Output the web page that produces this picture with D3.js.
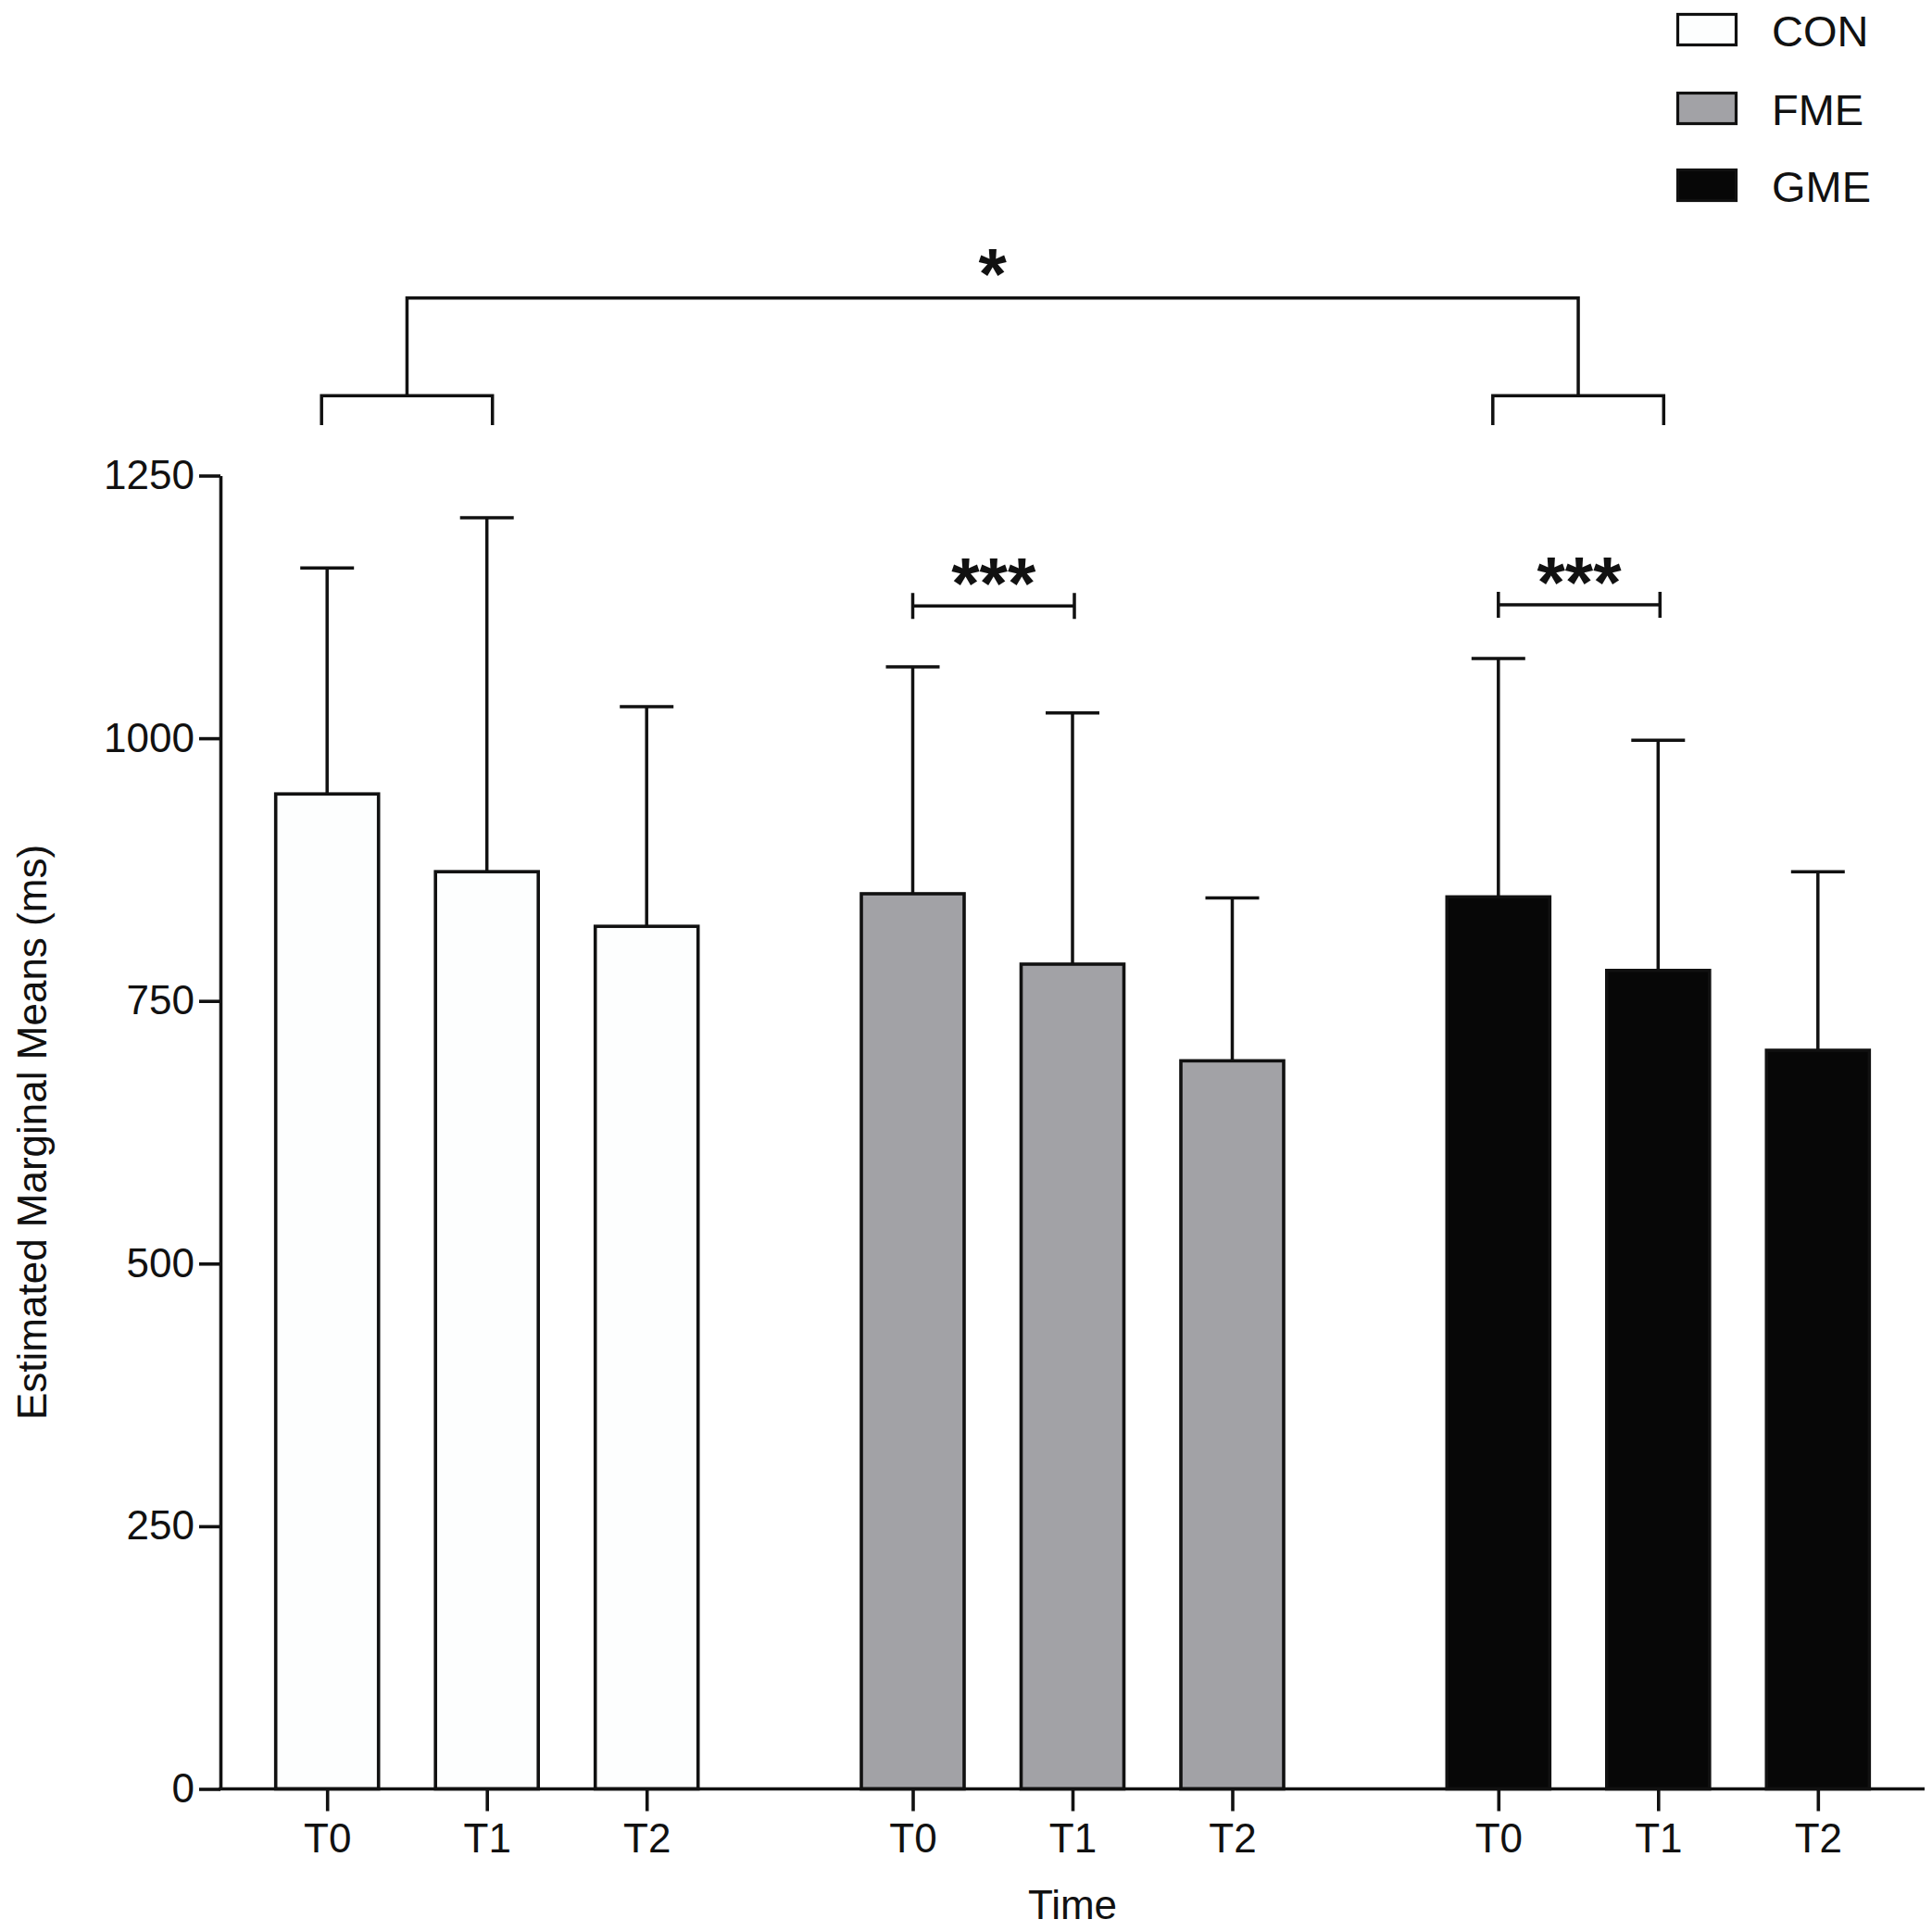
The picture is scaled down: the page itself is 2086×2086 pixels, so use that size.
<!DOCTYPE html>
<html>
<head>
<meta charset="utf-8">
<script src="https://cdn.jsdelivr.net/npm/d3@7"></script>
<style>
  body { margin: 0; background: #fff; }
</style>
</head>
<body>
<script>
// values (ms)
var groups   = ["CON", "FME", "GME"];
var times    = ["T0", "T1", "T2"];
var conMeans = [947, 873, 821];
var conSD    = [215, 337, 209];
var fmeMeans = [852, 785, 693];
var fmeSD    = [216, 239, 155];
var gmeMeans = [849, 779, 703];
var gmeSD    = [227, 219, 170];
var yTicks   = [0, 250, 500, 750, 1000, 1250];
var colours  = ["#fdfefe", "#a2a2a6", "#070707"];

var width  = 2086;
var height = 2086;
var plotLeft = 238, plotRight = 2078, plotTop = 513.5, plotBottom = 1931.5;
var font = "'Liberation Sans', Arial, Helvetica, sans-serif";

var means = [conMeans, fmeMeans, gmeMeans];
var sds   = [conSD, fmeSD, gmeSD];
var rows = [];
groups.forEach(function(g, i) {
  times.forEach(function(t, j) {
    rows.push({ group: g, time: t, gi: i, mean: means[i][j], sd: sds[i][j] });
  });
});

// group positions, then time positions inside each group
var x0 = d3.scalePoint().domain(groups).range([plotLeft, plotRight]).padding(0.455);
var x1 = d3.scaleBand().domain(times).range([-258.75, 258.75])
           .paddingInner(0.3565).paddingOuter(0.3565 / 2);
var y  = d3.scaleLinear().domain([0, 1250]).range([plotBottom, plotTop]);

function cx(g, t) { return x0(g) + x1(t) + x1.bandwidth() / 2; }

var svg = d3.select("body").append("svg")
  .attr("width", width)
  .attr("height", height)
  .style("font-family", font);

svg.append("rect").attr("width", width).attr("height", height).attr("fill", "#fff");

// bars
svg.selectAll("rect.bar")
  .data(rows)
  .enter().append("rect")
    .attr("class", "bar")
    .attr("x", function(d) { return cx(d.group, d.time) - x1.bandwidth() / 2; })
    .attr("y", function(d) { return y(d.mean); })
    .attr("width", x1.bandwidth())
    .attr("height", function(d) { return y(0) - y(d.mean); })
    .attr("fill", function(d) { return colours[d.gi]; })
    .attr("stroke", "#111")
    .attr("stroke-width", 3.6);

// error bars (upper only)
var err = svg.selectAll("g.err").data(rows).enter().append("g")
  .attr("stroke", "#111").attr("stroke-width", 3.5);
err.append("line")
  .attr("x1", function(d) { return cx(d.group, d.time); })
  .attr("x2", function(d) { return cx(d.group, d.time); })
  .attr("y1", function(d) { return y(d.mean); })
  .attr("y2", function(d) { return y(d.mean + d.sd); });
err.append("line")
  .attr("x1", function(d) { return cx(d.group, d.time) - 29; })
  .attr("x2", function(d) { return cx(d.group, d.time) + 29; })
  .attr("y1", function(d) { return y(d.mean + d.sd); })
  .attr("y2", function(d) { return y(d.mean + d.sd); });

// y axis
var yAxis = svg.append("g")
  .attr("transform", "translate(" + plotLeft + ",0)")
  .call(d3.axisLeft(y).tickValues(yTicks).tickFormat(d3.format("d"))
          .tickSize(23).tickSizeOuter(0).tickPadding(5));
yAxis.attr("font-size", 44).attr("font-family", font);
yAxis.selectAll("path, line").attr("stroke", "#111").attr("stroke-width", 3.6);
yAxis.selectAll("text").attr("fill", "#111");

// x axis
var keys = rows.map(function(d) { return d.group + "|" + d.time; });
var xTick = d3.scaleOrdinal().domain(keys)
  .range(rows.map(function(d) { return cx(d.group, d.time); }));
var xAxis = svg.append("g")
  .attr("transform", "translate(0," + plotBottom + ")")
  .call(d3.axisBottom(xTick).tickSize(24).tickFormat(function(k) { return k.split("|")[1]; }));
xAxis.select(".domain").remove();
xAxis.append("line").attr("x1", plotLeft - 1.8).attr("x2", plotRight).attr("stroke", "#111");
xAxis.attr("font-size", 44).attr("font-family", font);
xAxis.selectAll("line").attr("stroke", "#111").attr("stroke-width", 3.6);
xAxis.selectAll(".tick text").attr("y", 68.5).attr("dy", 0).attr("fill", "#111");

// axis titles
svg.append("text")
  .attr("x", x0("FME")).attr("y", 2072)
  .attr("text-anchor", "middle").attr("font-size", 44).attr("fill", "#111")
  .text("Time");
svg.append("text")
  .attr("transform", "translate(50," + (plotTop + plotBottom) / 2 + ") rotate(-90)")
  .attr("text-anchor", "middle").attr("font-size", 44).attr("fill", "#111")
  .text("Estimated Marginal Means (ms)");

// significance: T0 vs T1 within a group
var pairBrackets = [
  { group: "FME", from: "T0", to: "T1", level: 1126, label: "***" },
  { group: "GME", from: "T0", to: "T1", level: 1127, label: "***" }
];
var br = svg.selectAll("g.pair").data(pairBrackets).enter().append("g")
  .attr("stroke", "#111").attr("stroke-width", 3.5);
br.append("path")
  .attr("fill", "none")
  .attr("d", function(d) {
    var a = cx(d.group, d.from), b = cx(d.group, d.to) + 2, h = y(d.level);
    return "M" + a + "," + (h - 14) + "V" + (h + 14) +
           "M" + a + "," + h + "H" + b +
           "M" + b + "," + (h - 14) + "V" + (h + 14);
  });
br.append("text")
  .attr("stroke", "none").attr("fill", "#111")
  .attr("x", function(d) { return (cx(d.group, d.from) + cx(d.group, d.to)) / 2 + 1; })
  .attr("y", function(d) { return y(d.level) + 3; })
  .attr("text-anchor", "middle").attr("font-size", 78).attr("font-weight", "bold")
  .text(function(d) { return d.label; });

// significance: CON vs GME (T0–T1 pooled)
var groupBracket = { left: "CON", right: "GME", from: "T0", to: "T1", subLevel: 1326, subDrop: 28, topLevel: 1419, label: "*" };
var spread = 6;
var gb = svg.append("g").attr("stroke", "#111").attr("stroke-width", 3.5).attr("fill", "none");
[groupBracket.left, groupBracket.right].forEach(function(g) {
  var a = cx(g, groupBracket.from) - spread, b = cx(g, groupBracket.to) + spread;
  var h = y(groupBracket.subLevel), hd = y(groupBracket.subLevel - groupBracket.subDrop);
  gb.append("path").attr("d", "M" + a + "," + hd + "V" + h + "H" + b + "V" + hd);
});
var mL = (cx(groupBracket.left, groupBracket.from) + cx(groupBracket.left, groupBracket.to)) / 2;
var mR = (cx(groupBracket.right, groupBracket.from) + cx(groupBracket.right, groupBracket.to)) / 2;
gb.append("path").attr("d",
  "M" + mL + "," + y(groupBracket.subLevel) + "V" + y(groupBracket.topLevel) +
  "H" + mR + "V" + y(groupBracket.subLevel));
svg.append("text")
  .attr("x", (mL + mR) / 2).attr("y", y(groupBracket.topLevel) + 1)
  .attr("text-anchor", "middle").attr("font-size", 78).attr("font-weight", "bold").attr("fill", "#111")
  .text(groupBracket.label);

// legend
var legend = svg.selectAll("g.legend").data(groups).enter().append("g")
  .attr("transform", function(d, i) { return "translate(1811.5," + [15.5, 100.5, 183.5][i] + ")"; });
legend.append("rect")
  .attr("width", 63).attr("height", 33)
  .attr("fill", function(d, i) { return colours[i]; })
  .attr("stroke", "#111").attr("stroke-width", 3.2);
legend.append("text")
  .attr("x", 101.5).attr("y", 34.5)
  .attr("font-size", 47).attr("fill", "#111")
  .text(function(d) { return d; });
</script>
</body>
</html>
